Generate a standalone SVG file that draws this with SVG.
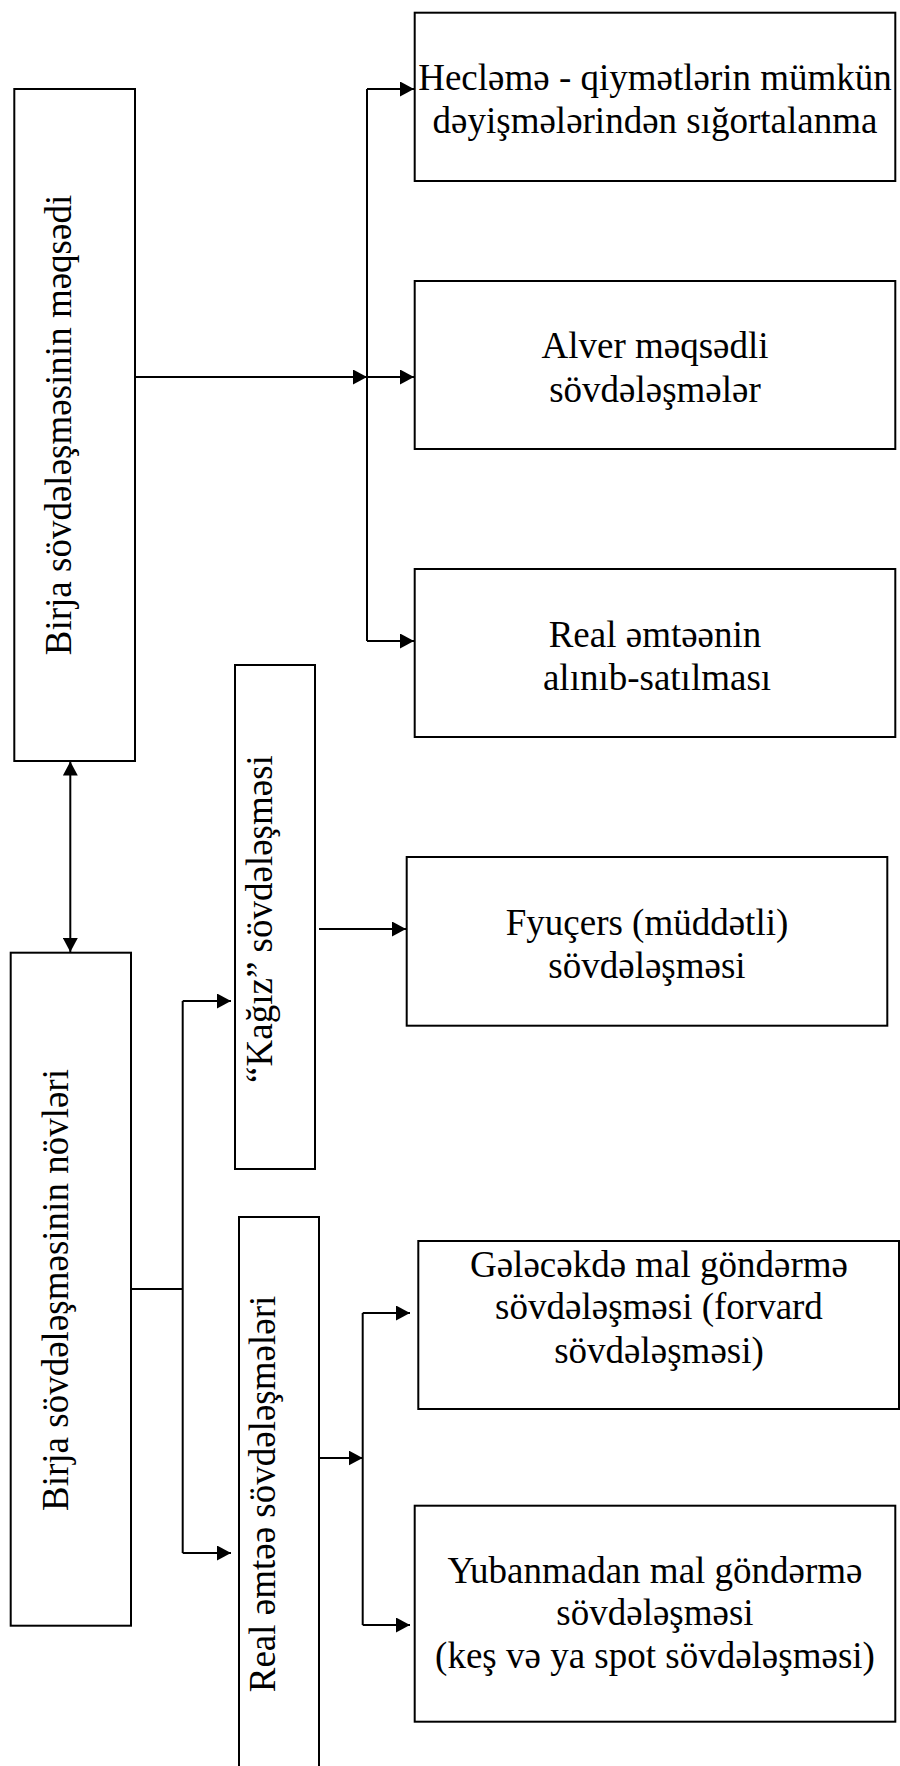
<svg xmlns="http://www.w3.org/2000/svg" width="900" height="1766" viewBox="0 0 900 1766">
  <defs>
    <marker id="arrow" markerUnits="userSpaceOnUse" markerWidth="15" markerHeight="15" refX="14" refY="7.5" orient="auto-start-reverse">
      <path d="M0,0 L14,7.5 L0,15 Z" fill="#000"/>
    </marker>
    <style>
      .box { fill: #fff; stroke: #000; stroke-width: 2; }
      .lbl { font-family: "Liberation Serif", "Times New Roman", serif; font-size: 37px; fill: #000; text-anchor: middle; }
      .wire { fill: none; stroke: #000; stroke-width: 2; }
      .arr { marker-end: url(#arrow); }
    </style>
  </defs>
  <rect width="900" height="1766" fill="#fff"/>

  <!-- connectors -->
  <g id="connectors">
    <!-- purpose branch -->
    <path class="wire" d="M367,89 V641"/>
    <path class="wire arr" d="M132,377 H367"/>
    <path class="wire arr" d="M367,89 H414"/>
    <path class="wire arr" d="M367,377 H414"/>
    <path class="wire arr" d="M367,641 H414"/>
    <!-- link between the two main boxes -->
    <path class="wire" d="M70.3,761.5 V952" marker-start="url(#arrow)" marker-end="url(#arrow)"/>
    <!-- paper deals -->
    <path class="wire arr" d="M319,929 H406"/>
    <!-- types branch -->
    <path class="wire" d="M131,1289 H182.7"/>
    <path class="wire" d="M182.7,1001 V1553"/>
    <path class="wire arr" d="M182.7,1001 H231"/>
    <path class="wire arr" d="M182.7,1553 H231"/>
    <!-- real goods branch -->
    <path class="wire arr" d="M319,1458 H362.7"/>
    <path class="wire" d="M362.7,1313 V1625"/>
    <path class="wire arr" d="M362.7,1313 H410"/>
    <path class="wire arr" d="M362.7,1625 H410"/>
  </g>

  <g id="node-meqsedi">
    <rect class="box" x="14.3" y="89" width="120.7" height="672"/>
    <text class="lbl" transform="translate(71,425) rotate(-90)">Birja sövdələşməsinin məqsədi</text>
  </g>

  <g id="node-hecleme">
    <rect class="box" x="414.7" y="12.7" width="480.6" height="168.3"/>
    <text class="lbl" x="655" y="90">Hecləmə - qiymətlərin mümkün</text>
    <text class="lbl" x="655" y="133">dəyişmələrindən sığortalanma</text>
  </g>

  <g id="node-alver">
    <rect class="box" x="414.7" y="281" width="480.6" height="168"/>
    <text class="lbl" x="655" y="358">Alver məqsədli</text>
    <text class="lbl" x="655" y="402">sövdələşmələr</text>
  </g>

  <g id="node-real-alqi-satqi">
    <rect class="box" x="414.7" y="569" width="480.6" height="168"/>
    <text class="lbl" x="655" y="647">Real əmtəənin</text>
    <text class="lbl" x="657" y="690">alınıb-satılması</text>
  </g>

  <g id="node-novleri">
    <rect class="box" x="10.7" y="952.7" width="120.3" height="673"/>
    <text class="lbl" transform="translate(68,1290) rotate(-90)">Birja sövdələşməsinin növləri</text>
  </g>

  <g id="node-kagiz">
    <rect class="box" x="235" y="665" width="80" height="504"/>
    <text class="lbl" transform="translate(272,919) rotate(-90)">“Kağız” sövdələşməsi</text>
  </g>

  <g id="node-fyucers">
    <rect class="box" x="406.7" y="857" width="480.6" height="168.7"/>
    <text class="lbl" x="647" y="935">Fyuçers (müddətli)</text>
    <text class="lbl" x="647" y="978">sövdələşməsi</text>
  </g>

  <g id="node-real-emtee">
    <rect class="box" x="239" y="1217" width="80" height="580"/>
    <text class="lbl" transform="translate(275,1494) rotate(-90)">Real əmtəə sövdələşmələri</text>
  </g>

  <g id="node-forvard">
    <rect class="box" x="418.3" y="1241" width="480.7" height="168"/>
    <text class="lbl" x="659" y="1277">Gələcəkdə mal göndərmə</text>
    <text class="lbl" x="659" y="1319">sövdələşməsi (forvard</text>
    <text class="lbl" x="659" y="1363">sövdələşməsi)</text>
  </g>

  <g id="node-spot">
    <rect class="box" x="414.7" y="1505.7" width="480.6" height="216"/>
    <text class="lbl" x="655" y="1583">Yubanmadan mal göndərmə</text>
    <text class="lbl" x="655" y="1625">sövdələşməsi</text>
    <text class="lbl" x="655" y="1668">(keş və ya spot sövdələşməsi)</text>
  </g>
</svg>
